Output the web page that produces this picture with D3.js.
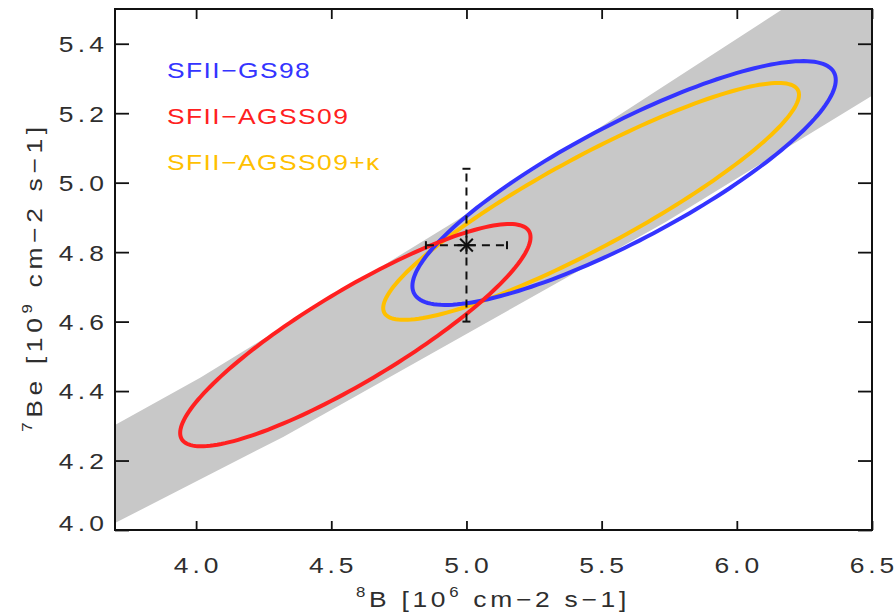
<!doctype html>
<html lang="en">
  <head>
    <meta charset="UTF-8"/>
    <title>7Be vs 8B</title>
    <script src="https://d3js.org/d3.v7.min.js"></script>
    <style>
      body { margin: 0; background: #fff; }
      text { font-family: "Liberation Sans", Arial, sans-serif; }
      .lbl { fill: #2e2e2e; }
    </style>
  </head>
  <body>
    <div id="chart"></div>
    <script>
      // model names and colours
      var models = ["SFII\u2212GS98", "SFII\u2212AGSS09", "SFII\u2212AGSS09+\u03ba"];
      var colors = ["#3434ff", "#ff2020", "#ffc000"];

      // ellipse parameters (data units)
      var centerB  = [5.583, 4.589, 5.461];
      var centerBe = [4.999, 4.561, 4.946];
      var sigmaB   = [0.783, 0.648, 0.769];
      var sigmaBe  = [0.351, 0.320, 0.341];
      var corr     = [0.845, 0.88, 0.90];

      // measured point with errors
      var pointB = 5.0, pointBe = 4.82;
      var errB = 0.15, errBe = 0.22;

      // grey band edges (8B, 7Be)
      var bandUpper = [[3.7, 4.302], [4.015, 4.438], [4.959, 4.889], [6.17, 5.5], [6.6, 5.76]];
      var bandLower = [[3.7, 4.020], [4.322, 4.268], [5.737, 4.887], [6.504, 5.252], [6.6, 5.30]];

      // ticks
      var xMajor = [4.0, 4.5, 5.0, 5.5, 6.0, 6.5];
      var yMajor = [4.0, 4.2, 4.4, 4.6, 4.8, 5.0, 5.2, 5.4];
      var xMinor = d3.range(38, 65).map(function(d) { return d / 10; });
      var yMinor = d3.range(81, 110).map(function(d) { return d / 20; });

      var W = 895, H = 613;
      var pl = 115, pr = 872, pt = 9, pb = 530;
      var sx = 1.2; // the original font is wide

      var svg = d3.select("#chart").append("svg")
          .attr("width", W).attr("height", H);

      var x = d3.scaleLinear().domain([3.7, 6.5]).range([pl, pr]);
      var y = d3.scaleLinear().domain([4.0, 5.5]).range([pb, pt]);

      svg.append("clipPath").attr("id", "plot")
        .append("rect")
        .attr("x", pl).attr("y", pt)
        .attr("width", pr - pl).attr("height", pb - pt);

      var plot = svg.append("g").attr("clip-path", "url(#plot)");

      // grey band
      var band = bandUpper.concat(bandLower.slice().reverse());
      plot.append("path")
        .attr("d", d3.line().x(function(d) { return x(d[0]); }).y(function(d) { return y(d[1]); })(band) + "Z")
        .attr("fill", "#c8c8c8");

      // ellipses
      function ellipse(i) {
        return d3.range(0, 361, 2).map(function(a) {
          var t = a * Math.PI / 180;
          return [centerB[i] + sigmaB[i] * Math.cos(t),
                  centerBe[i] + sigmaBe[i] * (corr[i] * Math.cos(t) + Math.sqrt(1 - corr[i] * corr[i]) * Math.sin(t))];
        });
      }
      var line = d3.line()
          .x(function(d) { return x(d[0]); })
          .y(function(d) { return y(d[1]); })
          .curve(d3.curveLinearClosed);

      [2, 0, 1].forEach(function(i) {
        plot.append("path")
          .attr("d", line(ellipse(i)))
          .attr("fill", "none")
          .attr("stroke", colors[i])
          .attr("stroke-width", 4);
      });

      // error bars
      var eb = plot.append("g").attr("stroke", "#111").attr("stroke-width", 2).attr("fill", "none");
      eb.append("line")
        .attr("x1", x(pointB)).attr("x2", x(pointB))
        .attr("y1", y(pointBe - errBe)).attr("y2", y(pointBe + errBe))
        .attr("stroke-dasharray", "8,6");
      eb.append("line")
        .attr("x1", x(pointB - errB)).attr("x2", x(pointB + errB))
        .attr("y1", y(pointBe)).attr("y2", y(pointBe))
        .attr("stroke-dasharray", "8,6");
      [pointBe - errBe, pointBe + errBe].forEach(function(v) {
        eb.append("line")
          .attr("x1", x(pointB) - 4).attr("x2", x(pointB) + 4)
          .attr("y1", y(v)).attr("y2", y(v));
      });
      [pointB - errB, pointB + errB].forEach(function(v) {
        eb.append("line")
          .attr("x1", x(v)).attr("x2", x(v))
          .attr("y1", y(pointBe) - 4).attr("y2", y(pointBe) + 4);
      });
      // asterisk
      [0, 45, 90, 135].forEach(function(a) {
        var t = a * Math.PI / 180, r = 9;
        eb.append("line")
          .attr("x1", x(pointB) - r * Math.cos(t)).attr("x2", x(pointB) + r * Math.cos(t))
          .attr("y1", y(pointBe) - r * Math.sin(t)).attr("y2", y(pointBe) + r * Math.sin(t));
      });

      // axes, ticks pointing inward
      function noDomain(g) { g.select(".domain").remove(); }

      var gx = svg.append("g").attr("transform", "translate(0," + pb + ")");
      gx.call(d3.axisBottom(x).tickValues(xMinor).tickSize(-4.5).tickFormat("")).call(noDomain);
      gx.call(d3.axisBottom(x).tickValues(xMajor).tickSize(-9).tickFormat(d3.format(".1f"))).call(noDomain);

      var gt = svg.append("g").attr("transform", "translate(0," + pt + ")");
      gt.call(d3.axisTop(x).tickValues(xMinor).tickSize(-5).tickFormat("")).call(noDomain);
      gt.call(d3.axisTop(x).tickValues(xMajor).tickSize(-10).tickFormat("")).call(noDomain);

      var gy = svg.append("g").attr("transform", "translate(" + pl + ",0)");
      gy.call(d3.axisLeft(y).tickValues(yMinor).tickSize(-7).tickFormat("")).call(noDomain);
      gy.call(d3.axisLeft(y).tickValues(yMajor).tickSize(-14).tickFormat(d3.format(".1f"))).call(noDomain);

      var gr = svg.append("g").attr("transform", "translate(" + pr + ",0)");
      gr.call(d3.axisRight(y).tickValues(yMinor).tickSize(-6).tickFormat("")).call(noDomain);
      gr.call(d3.axisRight(y).tickValues(yMajor).tickSize(-14).tickFormat("")).call(noDomain);

      svg.selectAll(".tick line").attr("stroke", "#111").attr("stroke-width", 1.8);

      gx.selectAll("text")
        .attr("class", "lbl")
        .attr("y", 43).attr("dy", null).attr("dx", 1.2)
        .attr("transform", "scale(" + sx + ",1)")
        .attr("fill", null)
        .style("font-size", "22px").style("letter-spacing", "3.3px");
      gy.selectAll("text")
        .attr("class", "lbl")
        .attr("x", -5.6)
        .attr("dy", function(d) { return d === 4.0 ? "0em" : "0.36em"; })
        .attr("transform", "scale(" + sx + ",1)")
        .attr("fill", null)
        .style("font-size", "22px").style("letter-spacing", "3.6px");

      // frame
      svg.append("rect")
        .attr("x", pl).attr("y", pt)
        .attr("width", pr - pl).attr("height", pb - pt)
        .attr("fill", "none").attr("stroke", "#111").attr("stroke-width", 2);

      // axis titles
      var xt = svg.append("g")
        .attr("transform", "translate(493,607) scale(" + sx + ",1)")
        .append("text")
        .attr("class", "lbl")
        .attr("text-anchor", "middle")
        .style("font-size", "22px").style("letter-spacing", "3.1px");
      xt.append("tspan").text("8").style("font-size", "14px").attr("dy", -10);
      xt.append("tspan").text("B [10").attr("dy", 10);
      xt.append("tspan").text("6").style("font-size", "14px").attr("dy", -10);
      xt.append("tspan").text(" cm\u22122 s\u22121]").attr("dy", 10);

      var yt = svg.append("g")
        .attr("transform", "translate(42,277) rotate(-90) scale(" + sx + ",1)")
        .append("text")
        .attr("class", "lbl")
        .attr("text-anchor", "middle")
        .style("font-size", "22px").style("letter-spacing", "3.9px");
      yt.append("tspan").text("7").style("font-size", "14px").attr("dy", -10);
      yt.append("tspan").text("Be [10").attr("dy", 10);
      yt.append("tspan").text("9").style("font-size", "14px").attr("dy", -10);
      yt.append("tspan").text(" cm\u22122 s\u22121]").attr("dy", 10);

      // legend
      svg.selectAll(".legend")
        .data(models)
        .enter().append("g")
        .attr("class", "legend")
        .attr("transform", function(d, i) { return "translate(167," + (78 + i * 46) + ") scale(" + sx + ",1)"; })
        .append("text")
        .style("font-size", "22px").style("letter-spacing", "1.2px")
        .style("fill", function(d, i) { return colors[i]; })
        .text(function(d) { return d; });
    </script>
  </body>
</html>
